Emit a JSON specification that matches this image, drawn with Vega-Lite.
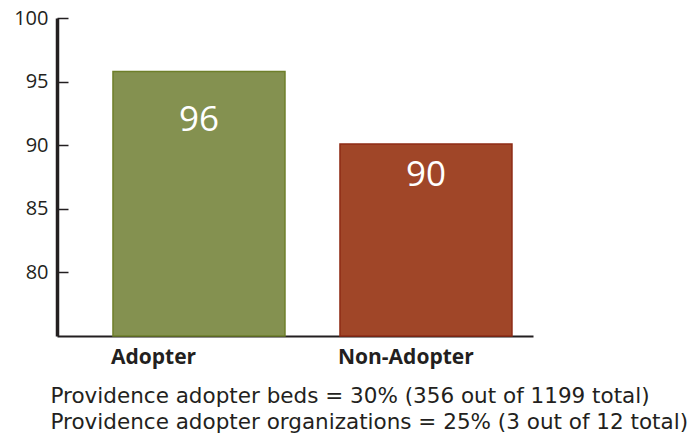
{
  "$schema": "https://vega.github.io/schema/vega-lite/v6.json",
  "width": 476,
  "height": 318,
  "autosize": {"type": "none"},
  "padding": {"left": 57, "top": 18, "right": 167, "bottom": 103},
  "background": "white",
  "data": {"values": [
    {"group": "Adopter", "value": 95.8, "label": "96"},
    {"group": "Non-Adopter", "value": 90.1, "label": "90"}
  ]},
  "encoding": {
    "x": {
      "field": "group", "type": "nominal", "sort": null,
      "scale": {"paddingInner": 0.2423, "paddingOuter": 0.1696, "align": 0.727},
      "axis": {
        "title": ["Providence adopter beds = 30% (356 out of 1199 total)", "Providence adopter organizations = 25% (3 out of 12 total)"],
        "titleFont": "DejaVu Sans", "titleFontSize": 21.5, "titleFontWeight": "normal", "titleColor": "#231F20",
        "titleAnchor": "start", "titleAlign": "left", "titleX": -7, "titleY": 49, "titleBaseline": "top", "titleLineHeight": 26,
        "labelAngle": 0, "labelAlign": "left", "labelOffset": -88, "labelBaseline": "top", "labelPadding": 10,
        "labelFont": "Open Sans", "labelFontSize": 21, "labelFontWeight": "bold", "labelColor": "#231F20",
        "ticks": false, "domainColor": "#231F20", "domainWidth": 2
      }
    },
    "y": {
      "field": "value", "type": "quantitative",
      "scale": {"domain": [75, 100], "zero": false, "nice": false},
      "axis": {
        "title": null, "values": [80, 85, 90, 95, 100], "grid": false,
        "tickSize": -11, "tickWidth": 1.5, "tickColor": "#231F20", "labelPadding": 20,
        "labelFont": "Open Sans", "labelFontSize": 20, "labelColor": "#231F20",
        "domainColor": "#231F20", "domainWidth": 3.5
      }
    }
  },
  "layer": [
    {
      "mark": {"type": "bar", "strokeWidth": 1.5},
      "encoding": {
        "y2": {"datum": 75},
        "color": {"field": "group", "type": "nominal", "scale": {"domain": ["Adopter", "Non-Adopter"], "range": ["#849150", "#A04628"]}, "legend": null},
        "stroke": {"field": "group", "type": "nominal", "scale": {"domain": ["Adopter", "Non-Adopter"], "range": ["#6E7F2A", "#8E2B15"]}, "legend": null}
      }
    },
    {
      "transform": [{"filter": "datum.group === 'Adopter'"}],
      "mark": {"type": "text", "font": "Open Sans", "fontSize": 35, "color": "white", "baseline": "middle", "dy": 49},
      "encoding": {"text": {"field": "label"}}
    },
    {
      "transform": [{"filter": "datum.group === 'Non-Adopter'"}],
      "mark": {"type": "text", "font": "Open Sans", "fontSize": 35, "color": "white", "baseline": "middle", "dy": 31},
      "encoding": {"text": {"field": "label"}}
    }
  ],
  "config": {"view": {"stroke": null}}
}
